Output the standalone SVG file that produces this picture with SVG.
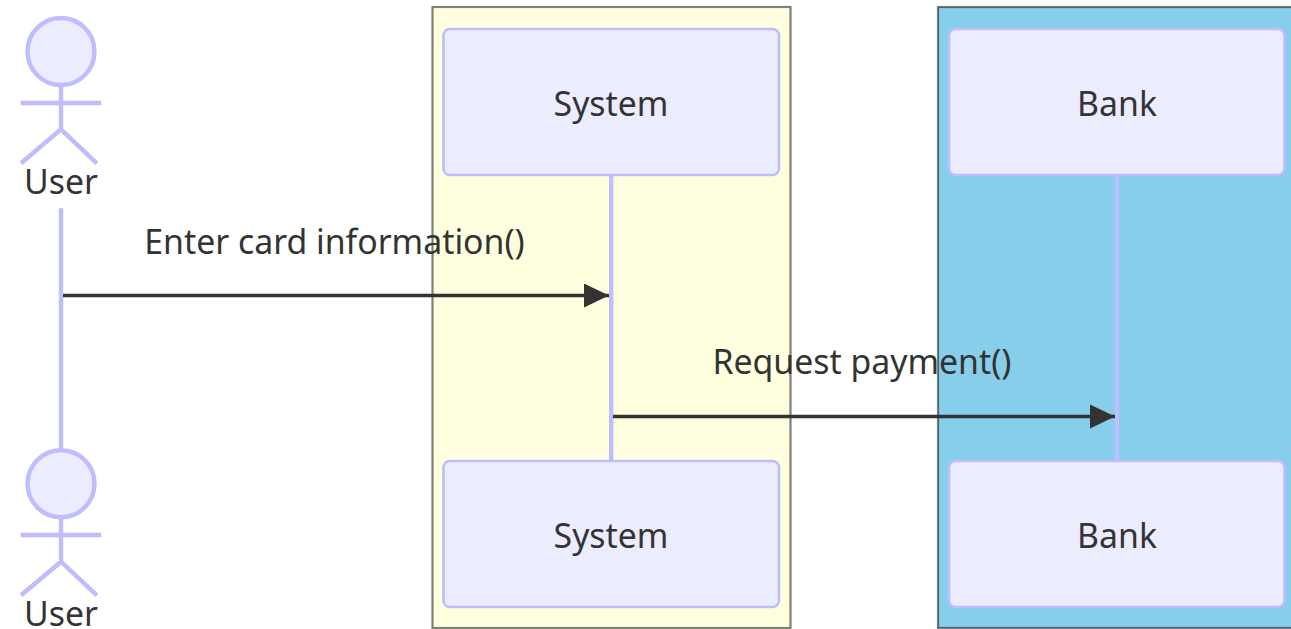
<svg xmlns="http://www.w3.org/2000/svg" width="1291" height="629" viewBox="0 0 1291 629">
<style>
.t{font-family:"Noto Sans","Open Sans",sans-serif;font-size:33.8px;fill:#333}
.c{text-anchor:middle}
.p{fill:#ECECFF;stroke:#BDBDFF;stroke-width:2.6}
.l{stroke:#BDBDFF;stroke-width:4.4;fill:none}
.a{fill:#ECECFF;stroke:#BDBDFF;stroke-width:4.4}
.m{stroke:#333;stroke-width:3.6;fill:none}
.b{stroke:#000;stroke-opacity:.5;stroke-width:2.2}
</style>
<defs><marker id="arrow" markerUnits="userSpaceOnUse" markerWidth="26" markerHeight="24" refX="25" refY="12" orient="auto"><path d="M0 0L25 12L0 24Z" fill="#333"/></marker></defs>
<g id="box-system"><rect class="b" x="432.5" y="7" width="358" height="621" fill="#FFFFE0"/></g>
<g id="box-bank"><rect class="b" x="938" y="7" width="360" height="621" fill="#87CEEB"/></g>
<g id="lifelines">
<path class="l" d="M61 208.300V450"/><path class="l" d="M611.200 175V461"/><path class="l" d="M1117 175V461"/>
</g>
<g id="actor-user-top"><circle class="a" cx="61" cy="51.500" r="33.500"/><path class="l" d="M61 85V129.300M20.700 103H101.300M61 129.300L21 163.300M61 129.300L96.800 163.300"/><text class="t c" x="61" y="194">User</text></g>
<g id="participant-system-top"><rect class="p" x="443.500" y="29" width="335.500" height="146" rx="6.500"/><text class="t c" x="611" y="116">System</text></g>
<g id="participant-bank-top"><rect class="p" x="949" y="29" width="335.500" height="146" rx="6.500"/><text class="t c" x="1117" y="116">Bank</text></g>
<g id="actor-user-bottom"><circle class="a" cx="61" cy="483.700" r="33.500"/><path class="l" d="M61 517V561.700M20.700 535H101.300M61 561.700L21 595.300M61 561.700L96.800 595.300"/><text class="t c" x="61" y="626">User</text></g>
<g id="participant-system-bottom"><rect class="p" x="443.500" y="461" width="335.500" height="146" rx="6.500"/><text class="t c" x="611" y="548.400">System</text></g>
<g id="participant-bank-bottom"><rect class="p" x="949" y="461" width="335.500" height="146" rx="6.500"/><text class="t c" x="1117" y="548.400">Bank</text></g>
<g id="connectors">
<text class="t c" x="334.500" y="254">Enter card information()</text>
<path class="m" d="M63 295.500H609" marker-end="url(#arrow)"/>
<text class="t c" x="862" y="374.400">Request payment()</text>
<path class="m" d="M613 416.500H1115" marker-end="url(#arrow)"/>
</g>
</svg>
